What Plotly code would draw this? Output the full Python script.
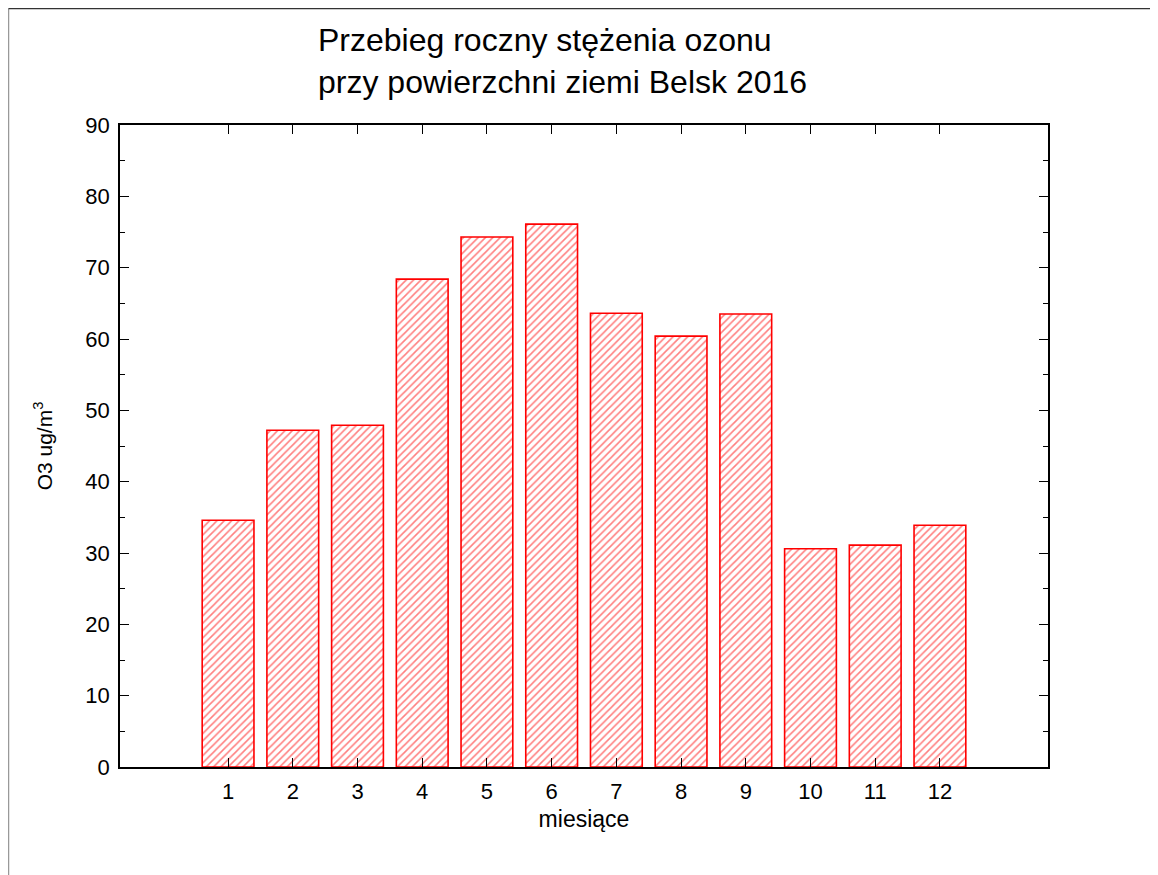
import plotly.graph_objects as go

months = [1, 2, 3, 4, 5, 6, 7, 8, 9, 10, 11, 12]
ozone = [34.6, 47.2, 47.9, 68.4, 74.3, 76.1, 63.6, 60.4, 63.5, 30.6, 31.1, 33.9]
y_ticks = [0, 10, 20, 30, 40, 50, 60, 70, 80, 90]

W, H = 1158, 875
L, R, T, B = 112, 118, 117, 116
pw, ph = W - L - R, H - T - B

def px(x):
    return (x - L) / pw

def py(y):
    return (H - B - y) / ph

fig = go.Figure()
fig.add_trace(go.Bar(
    x=months, y=ozone, width=0.8,
    marker=dict(color="white",
                line=dict(color="#ff0000", width=1.6),
                pattern=dict(shape="/", fgcolor="#ff0000", bgcolor="white",
                             size=5.2, solidity=0.3)),
    showlegend=False,
))

font = "Arial, Liberation Sans, sans-serif"
fig.update_layout(
    width=W, height=H,
    margin=dict(l=L, r=R, t=T, b=B, autoexpand=False),
    paper_bgcolor="white", plot_bgcolor="white",
    font=dict(family=font, color="black", size=22),
    title=dict(text="Przebieg roczny stężenia ozonu<br>przy powierzchni ziemi Belsk 2016",
               x=310 / W, xanchor="left", xref="container",
               y=1 - 43 / H, yanchor="top", yref="container",
               font=dict(size=32, family=font, color="black")),
    xaxis=dict(range=[-0.67, 13.67], tickvals=months, ticks="inside",
               ticklen=9, tickcolor="black", showline=True, linecolor="black",
               linewidth=1.5, mirror="allticks", showgrid=False, zeroline=False,
               tickfont=dict(size=22), ticklabelstandoff=4,
               title=dict(text="miesiące", font=dict(size=23), standoff=8)),
    yaxis=dict(range=[0, 90], tickvals=y_ticks, ticks="inside",
               ticklen=9, tickcolor="black", showline=True, linecolor="black",
               linewidth=1.5, mirror="allticks", showgrid=False, zeroline=False,
               tickfont=dict(size=22), ticklabelstandoff=4,
               minor=dict(dtick=5, ticks="inside", ticklen=5, tickcolor="black"),
               title=dict(text="O3 ug/m<sup>3</sup>", font=dict(size=21), standoff=27)),
    shapes=[
        dict(type="line", xref="paper", yref="paper", x0=px(0.5), x1=px(0.5),
             y0=py(0.5), y1=py(H + 5), line=dict(color="#999999", width=1.5)),
        dict(type="line", xref="paper", yref="paper", x0=px(0.5), x1=px(W + 5),
             y0=py(0.5), y1=py(0.5), line=dict(color="#333333", width=1.5)),
    ],
)

fig.write_html("out.html")
